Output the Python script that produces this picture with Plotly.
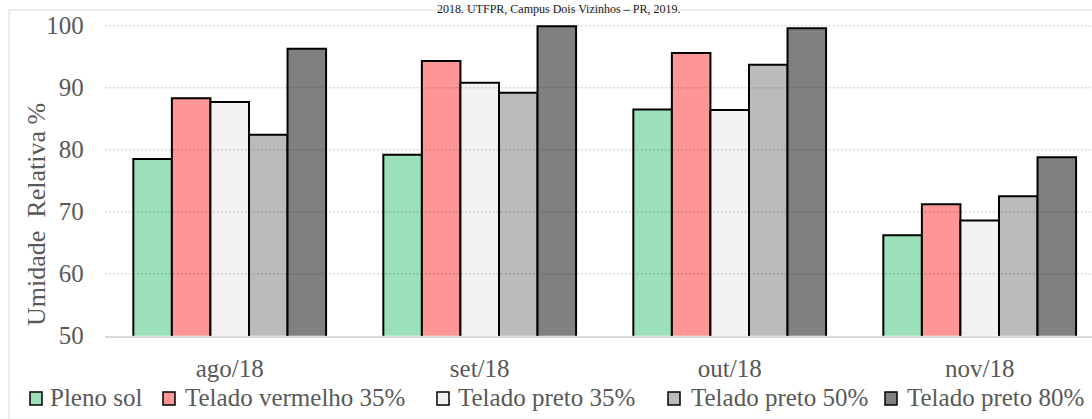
import plotly.graph_objects as go

# Monthly relative humidity (%) under each shading treatment
months = ["ago/18", "set/18", "out/18", "nov/18"]
series_names = ["Pleno sol", "Telado vermelho 35%", "Telado preto 35%",
                "Telado preto 50%", "Telado preto 80%"]
pleno_sol = [78.5, 79.2, 86.5, 66.2]
vermelho_35 = [88.3, 94.3, 95.6, 71.2]
preto_35 = [87.7, 90.8, 86.4, 68.6]
preto_50 = [82.4, 89.2, 93.7, 72.5]
preto_80 = [96.3, 99.9, 99.6, 78.8]
y_ticks = [50, 60, 70, 80, 90, 100]

series_values = [pleno_sol, vermelho_35, preto_35, preto_50, preto_80]
colors = ["#9CE0B9", "#FF9696", "#F2F2F2", "#BBBBBB", "#808080"]

W, H = 1092, 419
FONT = "Liberation Serif, 'Times New Roman', Times, serif"
GREY_TEXT = "#595959"


def px_x(p):
    return p / W


def px_y(p):
    return 1 - p / H


fig = go.Figure()
for name, vals, col in zip(series_names, series_values, colors):
    fig.add_trace(go.Bar(
        x=months, y=vals, name=name,
        marker=dict(color=col, line=dict(color="#000000", width=2)),
        showlegend=False,
    ))

shapes = []
# dotted horizontal grid, drawn over the bars
for v in y_ticks[1:]:
    shapes.append(dict(type="line", xref="x domain", yref="y",
                       x0=0, x1=1, y0=v, y1=v, layer="above",
                       line=dict(color="rgba(0,0,0,0.16)", width=1.5, dash="2px,2px")))

# chart-area frame (left and top edges)
shapes.append(dict(type="line", xref="paper", yref="paper",
                   x0=px_x(9), x1=px_x(9), y0=0, y1=px_y(10),
                   line=dict(color="#d9d9d9", width=1)))
shapes.append(dict(type="line", xref="paper", yref="paper",
                   x0=px_x(9), x1=1, y0=px_y(10), y1=px_y(10),
                   line=dict(color="#d9d9d9", width=1)))

# legend: swatch + label for each series
legend_swatch_x = [30, 163, 437, 668, 885]
legend_text_x = [48, 183, 456, 689, 905]
annotations = []
for name, col, sx, tx in zip(series_names, colors, legend_swatch_x, legend_text_x):
    shapes.append(dict(type="rect", xref="paper", yref="paper",
                       x0=px_x(sx), x1=px_x(sx + 12), y0=px_y(405), y1=px_y(392),
                       fillcolor=col, line=dict(color="#000000", width=1.5)))
    annotations.append(dict(text=name, xref="paper", yref="paper",
                            x=px_x(tx), y=px_y(397), xanchor="left", yanchor="middle",
                            showarrow=False,
                            font=dict(family=FONT, size=25, color=GREY_TEXT)))

# y-axis title
annotations.append(dict(text="Umidade\u00a0 Relativa %", xref="paper", yref="paper",
                        x=px_x(36), y=px_y(215), xanchor="center", yanchor="middle",
                        textangle=-90, showarrow=False,
                        font=dict(family=FONT, size=26, color=GREY_TEXT)))

# chart title (continuation line)
annotations.append(dict(text="2018. UTFPR, Campus Dois Vizinhos – PR, 2019.",
                        xref="paper", yref="paper",
                        x=px_x(558), y=px_y(9), xanchor="center", yanchor="middle",
                        showarrow=False, borderpad=0,
                        font=dict(family=FONT, size=12, color="#1a1a1a")))

plot_left = 104.7
plot_bottom = 335.7
px_per_unit = 6.2
y_top_val = 100.4
plot_top = plot_bottom - (y_top_val - 50) * px_per_unit
cat_px = 250.0

fig.update_layout(
    template="none",
    width=W, height=H,
    margin=dict(l=0, r=0, t=0, b=0, pad=0, autoexpand=False),
    paper_bgcolor="white", plot_bgcolor="white",
    barmode="group", bargap=0.229, bargroupgap=0,
    font=dict(family=FONT, color=GREY_TEXT),
    xaxis=dict(
        domain=[px_x(plot_left), 1],
        type="category",
        range=[-0.5, -0.5 + (W - plot_left) / cat_px],
        automargin=False,
        showline=True, linecolor="#d9d9d9", linewidth=1.5,
        showgrid=False, ticks="", zeroline=False,
        tickfont=dict(family=FONT, size=25, color=GREY_TEXT),
        ticklabelstandoff=10,
    ),
    yaxis=dict(
        domain=[px_y(plot_bottom), px_y(plot_top)],
        range=[50, y_top_val],
        tickvals=y_ticks,
        automargin=False,
        showgrid=False, showline=False, zeroline=False, ticks="",
        tickfont=dict(family=FONT, size=25, color=GREY_TEXT),
        ticklabelstandoff=20,
    ),
    shapes=shapes,
    annotations=annotations,
)

fig.write_html("out.html")
